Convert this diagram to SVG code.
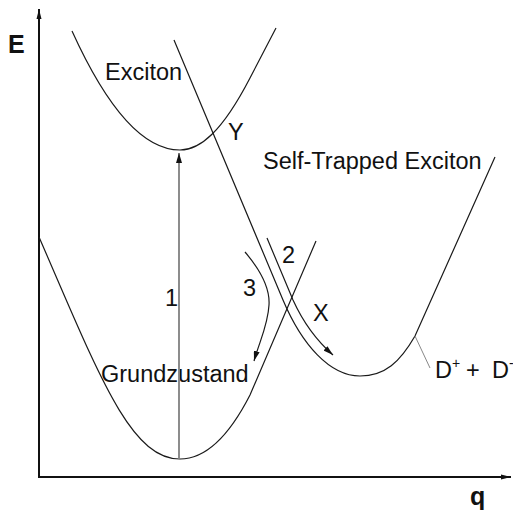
<svg xmlns="http://www.w3.org/2000/svg" width="513" height="513" viewBox="0 0 513 513">
<style>
.curve{fill:none;stroke:#1a1a1a;stroke-width:1.2}
.axis{fill:none;stroke:#111;stroke-width:2}
.lbl{font-family:"Liberation Sans",Arial,sans-serif;font-size:23.5px;fill:#111}
.big{font-family:"Liberation Sans",Arial,sans-serif;font-size:25px;font-weight:bold;fill:#111}
</style>
<defs>
<marker id="ah" viewBox="0 0 10 6" refX="10" refY="3" markerWidth="10" markerHeight="6" markerUnits="userSpaceOnUse" orient="auto">
<path d="M0,0 L10,3 L0,6 z" fill="#111"/>
</marker>
<marker id="axh" viewBox="0 0 10 6" refX="10" refY="3" markerWidth="10" markerHeight="6" markerUnits="userSpaceOnUse" orient="auto">
<path d="M0,0.5 L10,3 L0,5.5 z" fill="#111"/>
</marker>
</defs>
<rect width="513" height="513" fill="#fff"/>
<g id="axes">
<path class="axis" d="M39,477 L39,9" marker-end="url(#axh)"/>
<path class="axis" d="M38,477 L511,477" marker-end="url(#axh)"/>
<text class="big" x="8" y="53">E</text>
<text class="big" x="470" y="505">q</text>
</g>
<g id="exciton">
<path class="curve" d="M72,31 Q126,150 180,150 C200,150 222,132 250,78 L276,28"/>
<text class="lbl" x="105" y="80">Exciton</text>
</g>
<g id="ste">
<path class="curve" d="M174,40 L283,300 C302,345 330,376 360,376 C385,376 400,362 415,336 L495,157"/>
<text class="lbl" x="263" y="169">Self-Trapped Exciton</text>
</g>
<g id="ground">
<path class="curve" d="M39,237 C99,375 130,459 180,459 C205,459 228,438 250,395 L316,241"/>
<text class="lbl" x="101" y="382">Grundzustand</text>
</g>
<g id="dpair">
<path d="M415,336 L430,368" fill="none" stroke="#888" stroke-width="1"/>
<text class="lbl" x="435" y="378">D<tspan font-size="14" dy="-10">+</tspan><tspan x="466" dy="10">+</tspan><tspan x="492">D</tspan><tspan font-size="14" dy="-10">-</tspan></text>
</g>
<g id="point-Y"><text class="lbl" x="228" y="140">Y</text></g>
<g id="point-X"><text class="lbl" x="313" y="321">X</text></g>
<g id="connectors">
<path d="M179,459 L179,153" fill="none" stroke="#808080" stroke-width="1.8" marker-end="url(#ah)"/>
<path class="curve" d="M267,238 L293,300 Q308,333 333,355" marker-end="url(#ah)"/>
<path class="curve" d="M245,252 C262,272 270,290 269,305 C268,325 260,340 254,361" marker-end="url(#ah)"/>
<text class="lbl" x="165" y="306">1</text>
<text class="lbl" x="282" y="263">2</text>
<text class="lbl" x="243" y="296">3</text>
</g>
</svg>
